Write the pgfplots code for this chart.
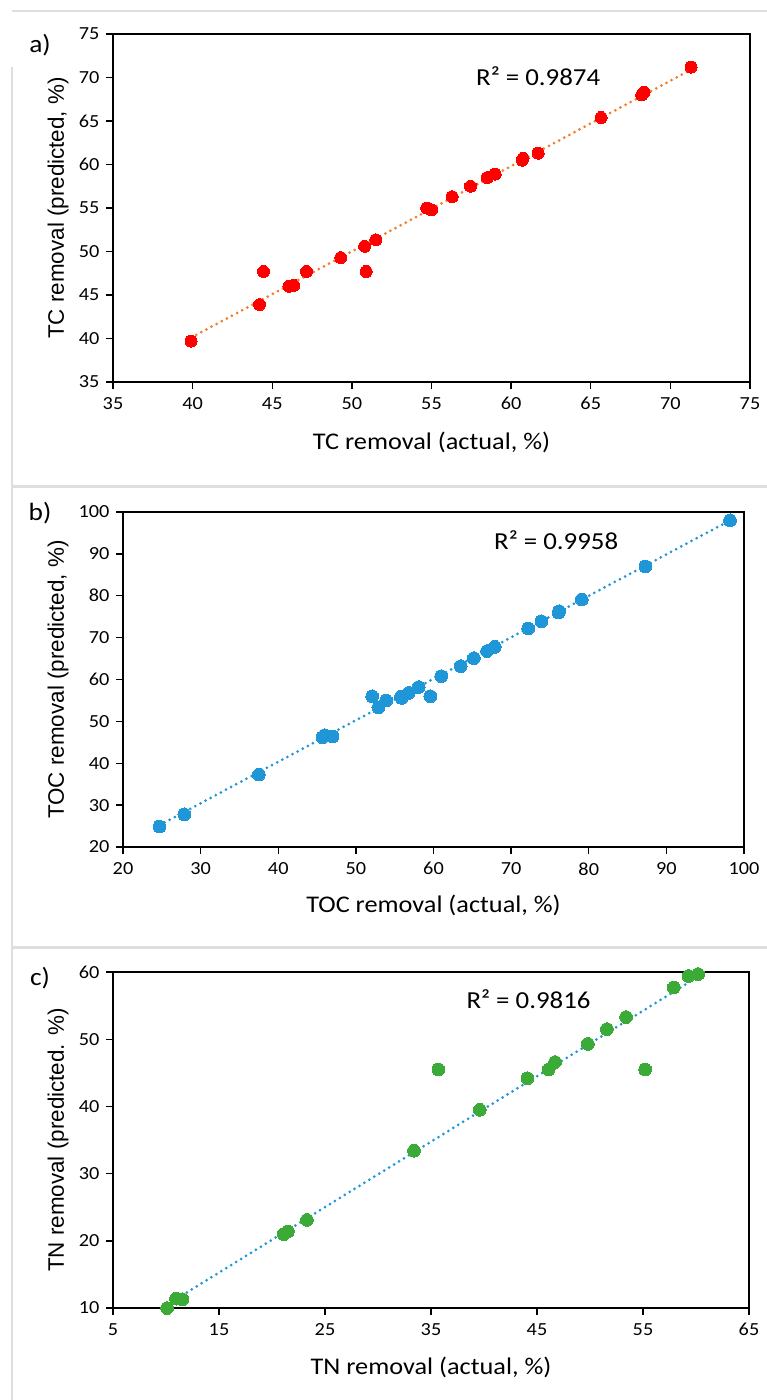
\documentclass[border=0pt]{standalone}
\usepackage{fontspec}
\setmainfont{Carlito}[FakeStretch=1.1]
\newfontfamily\ylabfont{Liberation Sans}
\usepackage{pgfplots}
\pgfplotsset{compat=1.18}
\definecolor{tcred}{RGB}{255,0,0}
\definecolor{trorange}{RGB}{240,125,40}
\definecolor{tocblue}{RGB}{30,150,215}
\definecolor{tngreen}{RGB}{60,170,55}
\definecolor{framegray}{RGB}{222,222,222}

\pgfplotsset{
  panel/.style={
    scale only axis, anchor=south west, clip=false,
    axis line style={line width=1.8bp, black},
    every tick/.style={black, line width=1.4bp},
    major tick length=7bp,
    tick align=outside,
    xtick pos=left, ytick pos=left,
    tick label style={font=\fontsize{18.5}{18.5}\selectfont},
    /pgf/number format/assume math mode=true,
    xlabel style={font=\fontsize{24}{24}\selectfont, anchor=center},
    ylabel style={font=\ylabfont\fontsize{22.5}{22.5}\selectfont, anchor=center},
    xticklabel shift=5bp, yticklabel shift=3bp,
  },
  trend/.style={line width=3bp, line cap=round, dash pattern=on 0bp off 5.8bp},
}

\pgfplotstableread{
x y
39.9 39.7
44.2 43.9
44.45 47.7
46.05 46.0
46.35 46.1
47.15 47.7
49.3 49.3
50.8 50.6
50.9 47.7
51.5 51.35
54.7 55.0
55.0 54.8
56.3 56.3
57.45 57.5
58.5 58.5
59.0 58.9
60.7 60.5
60.75 60.7
61.7 61.3
65.65 65.4
68.2 68.0
68.35 68.3
71.3 71.2
}\tcdata

\pgfplotstableread{
x y
24.7 24.9
27.9 27.8
37.5 37.3
45.7 46.2
46.0 46.7
47.0 46.4
52.1 56.0
52.9 53.3
53.9 55.0
55.8 55.9
55.9 55.6
56.8 56.8
58.1 58.2
59.6 56.0
61.0 60.8
63.5 63.2
65.2 65.1
66.9 66.8
67.9 67.8
72.2 72.2
73.9 73.9
76.1 76.0
76.2 76.3
79.1 79.1
87.3 87.0
98.2 98.0
}\tocdata

\pgfplotstableread{
x y
10.1 10.0
10.95 11.4
11.55 11.3
21.1 21.0
21.5 21.4
23.3 23.1
33.4 33.4
35.7 45.5
39.6 39.5
44.1 44.2
46.1 45.5
46.7 46.6
49.8 49.3
51.6 51.5
53.4 53.3
55.2 45.5
57.9 57.7
59.3 59.4
60.2 59.7
}\tndata

\begin{document}
\begin{tikzpicture}
\useasboundingbox (0,0) rectangle (767bp,-1400bp);
\fill[white] (0,0) rectangle (767bp,-1400bp);
% screenshot frame lines
\draw[framegray, line width=2.5bp] (12bp,-11bp) -- (767bp,-11bp);
\draw[framegray, line width=1.5bp] (12bp,-67bp) -- (12bp,-1400bp);
\draw[framegray, line width=3bp] (12bp,-486bp) -- (767bp,-486bp);
\draw[framegray, line width=3bp] (12bp,-947bp) -- (767bp,-947bp);

% panel letters
\node[font=\fontsize{25}{25}\selectfont] at (40bp,-45bp) {a)};
\node[font=\fontsize{25}{25}\selectfont] at (40bp,-513bp) {b)};
\node[font=\fontsize{25}{25}\selectfont] at (40bp,-978bp) {c)};

% ---------- a ----------
\begin{axis}[panel, at={(113bp,-382bp)}, width=637bp, height=348bp,
  xmin=35, xmax=75, ymin=35, ymax=75,
  xtick={35,40,...,75}, ytick={35,40,...,75},
  xlabel={TC removal (actual, \%)}, ylabel={TC removal (predicted, \%)},
  xlabel style={at={(axis description cs:0.5,-0.175)}},
  ylabel style={at={(axis description cs:-0.0863,0.5)}}]
\addplot[only marks, tcred, mark=*, mark size=6bp, mark options={draw=tcred, fill=tcred, line width=0pt}] table {\tcdata};
\addplot[trend, trorange] coordinates {(39.9,40.1) (71.3,70.9)};
\node[font=\fontsize{24.5}{24.5}\selectfont] at (axis cs:61.7,70.2) {R² = 0.9874};
\end{axis}

% ---------- b ----------
\begin{axis}[panel, at={(123bp,-847bp)}, width=621bp, height=335bp,
  xmin=20, xmax=100, ymin=20, ymax=100,
  xtick={20,30,...,100}, ytick={20,30,...,100},
  xlabel={TOC removal (actual, \%)}, ylabel={TOC removal (predicted, \%)},
  xlabel style={at={(axis description cs:0.5,-0.173)}},
  ylabel style={at={(axis description cs:-0.1047,0.5)}}]
\addplot[only marks, tocblue, mark=*, mark size=6.4bp, mark options={draw=tocblue, fill=tocblue, line width=0pt}] table {\tocdata};
\addplot[trend, tocblue] coordinates {(24.7,25.2) (98.2,98.0)};
\node[font=\fontsize{24.5}{24.5}\selectfont] at (axis cs:75.8,93.2) {R² = 0.9958};
\end{axis}

% ---------- c ----------
\begin{axis}[panel, at={(113bp,-1308bp)}, width=636bp, height=336bp,
  xmin=5, xmax=65, ymin=10, ymax=60,
  xtick={5,15,...,65}, ytick={10,20,...,60},
  xlabel={TN removal (actual, \%)}, ylabel={TN removal (predicted. \%)},
  xlabel style={at={(axis description cs:0.5,-0.176)}},
  ylabel style={at={(axis description cs:-0.0865,0.5)}}]
\addplot[only marks, tngreen, mark=*, mark size=6.4bp, mark options={draw=tngreen, fill=tngreen, line width=0pt}] table {\tndata};
\addplot[trend, tocblue] coordinates {(10.1,10.5) (60.2,59.3)};
\node[font=\fontsize{24.5}{24.5}\selectfont] at (axis cs:44.2,56.0) {R² = 0.9816};
\end{axis}
\end{tikzpicture}
\end{document}
